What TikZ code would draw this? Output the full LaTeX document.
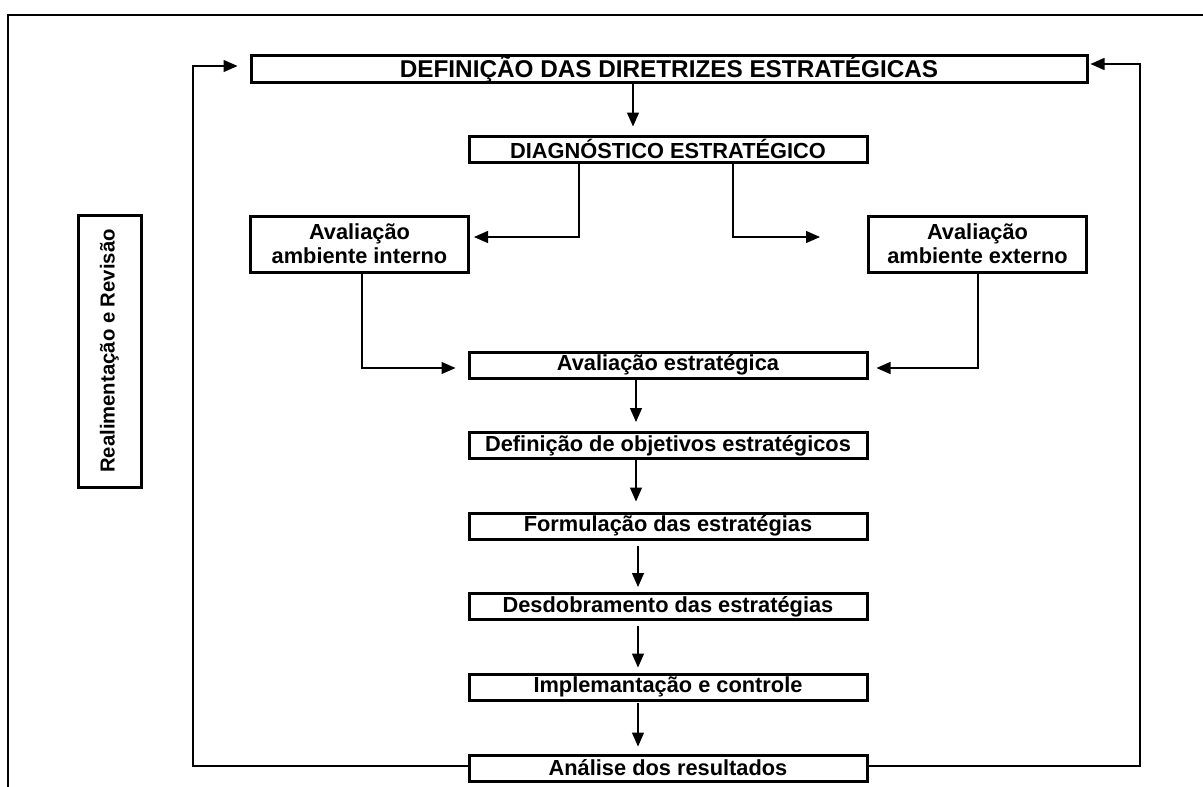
\documentclass[tikz,border=0pt]{standalone}
\usepackage{fontspec}
\setmainfont{Liberation Sans}
\usetikzlibrary{arrows.meta}
\begin{document}
\begin{tikzpicture}[x=1pt,y=-1pt,
  stepbox/.style={draw,line width=3pt,rectangle,inner sep=0pt,
    minimum width=398pt,minimum height=26pt,
    font=\fontsize{21.8}{24}\selectfont\bfseries},
  twoline/.style={stepbox,minimum width=218pt,minimum height=56pt,align=center},
  link/.style={line width=1.3pt},
  flow/.style={link,-{Triangle[length=14pt,width=12pt]}},
  frame/.style={line width=2pt}]
\useasboundingbox (0,0) rectangle (1203,787);

% outer frame, open at the bottom and right
\draw[frame] (8,800) -- (8,15) -- (1215,15);

% process boxes
\node[stepbox,minimum width=836pt,font=\fontsize{24.3}{26}\selectfont\bfseries] (dir) at (669,69) {DEFINIÇÃO DAS DIRETRIZES ESTRATÉGICAS};
\node[stepbox] (diag) at (668,149) {DIAGNÓSTICO ESTRATÉGICO};
\node[twoline] (int) at (359.5,244) {Avaliação\\ambiente interno};
\node[twoline] (ext) at (977.5,244) {Avaliação\\ambiente externo};
\node[stepbox] (aval) at (668,365) {Avaliação estratégica};
\node[stepbox] (obj) at (668,445.5) {Definição de objetivos estratégicos};
\node[stepbox] (form) at (668,526) {Formulação das estratégias};
\node[stepbox] (desd) at (668,606.5) {Desdobramento das estratégias};
\node[stepbox] (impl) at (668,687) {Implemantação e controle};
\node[stepbox] (anal) at (668,768) {Análise dos resultados};

% side label
\node[draw,line width=3pt,inner sep=0pt,minimum width=272pt,minimum height=63pt,
  rotate=90,font=\fontsize{20.3}{24}\selectfont\bfseries] (rev) at (109.5,351)
  {Realimentação e Revisão};

% main flow
\coordinate (c1) at (633,82);
\draw[flow,shorten >=8pt] (c1) -- (c1 |- diag.north);

\coordinate (l0) at (579,162);
\coordinate (l1) at (579,237);
\draw[flow,shorten >=4pt] (l0) -- (l1) -- (l1 -| int.east);

\coordinate (r0) at (733,162);
\coordinate (r1) at (733,237);
\draw[flow,shorten >=47pt] (r0) -- (r1) -- (r1 -| ext.west);

\coordinate (i0) at (362,272);
\coordinate (i1) at (362,368);
\draw[flow,shorten >=12pt] (i0) -- (i1) -- (i1 -| aval.west);

\coordinate (e0) at (978,272);
\coordinate (e1) at (978,368);
\draw[flow,shorten >=8pt] (e0) -- (e1) -- (e1 -| aval.east);

\coordinate (a0) at (636,378);
\draw[flow,shorten >=9pt] (a0) -- (a0 |- obj.north);
\coordinate (o0) at (636,459);
\draw[flow,shorten >=10pt] (o0) -- (o0 |- form.north);
\coordinate (f0) at (638,539);
\draw[flow,shorten <=7pt,shorten >=5pt] (f0) -- (f0 |- desd.north);
\coordinate (d0) at (638,620);
\draw[flow,shorten <=6pt,shorten >=5pt] (d0) -- (d0 |- impl.north);
\coordinate (m0) at (638,700);
\draw[flow,shorten <=3pt,shorten >=7pt] (m0) -- (m0 |- anal.north);

% feedback loops back to the top box
\coordinate (fl) at (193,766);
\coordinate (fl2) at (193,66);
\draw[flow,shorten >=12pt] (anal.west |- fl) -- (fl) -- (fl2) -- (fl2 -| dir.west);
\coordinate (fr) at (1140,766);
\coordinate (fr2) at (1140,64);
\draw[flow,shorten >=2pt] (anal.east |- fr) -- (fr) -- (fr2) -- (fr2 -| dir.east);
\end{tikzpicture}
\end{document}
